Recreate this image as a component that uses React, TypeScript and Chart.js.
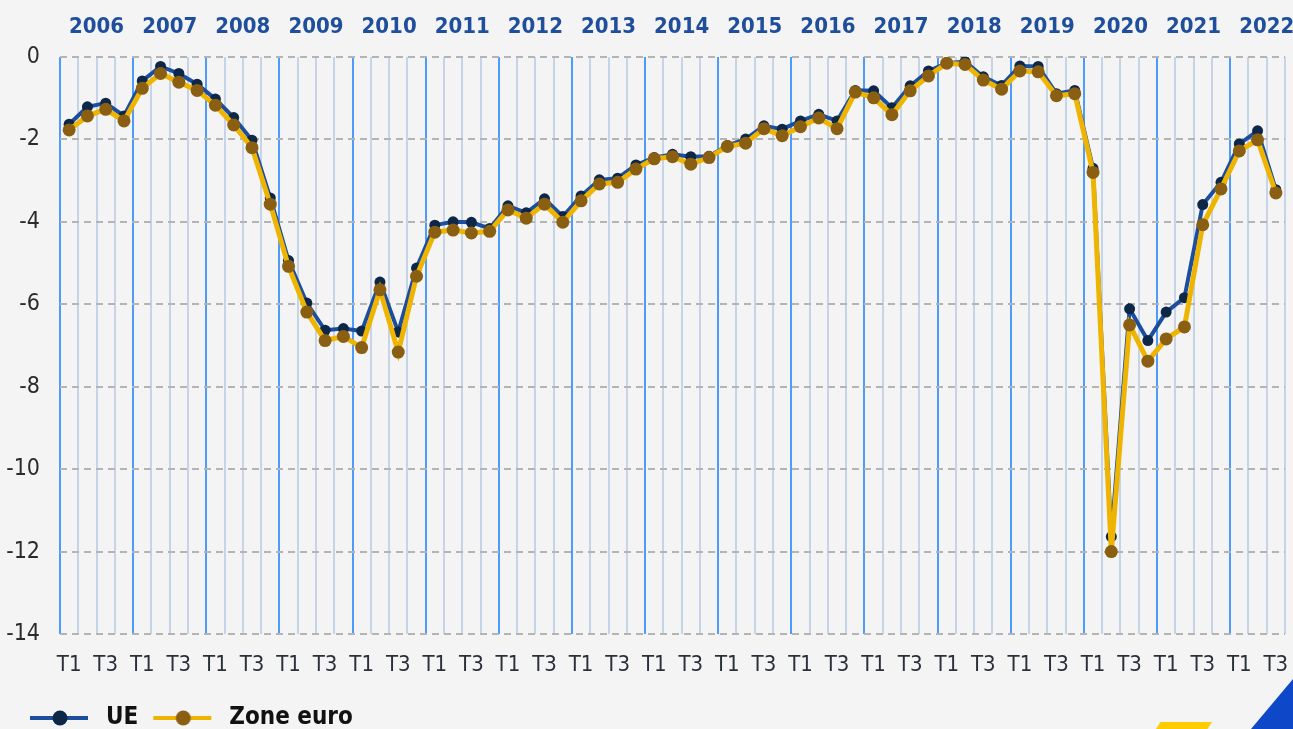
import React, { useEffect, useRef } from 'react';
import { Chart, registerables } from 'chart.js';

Chart.register(...registerables);

const YEARS = ['2006', '2007', '2008', '2009', '2010', '2011', '2012', '2013', '2014', '2015', '2016', '2017', '2018', '2019', '2020', '2021', '2022'];
const QUARTERS = ['T1', 'T2', 'T3', 'T4'];
const SHOWN_QUARTERS = ['T1', 'T3'];

const UE = [
  -1.63, -1.21, -1.12, -1.43,
  -0.58, -0.23, -0.40, -0.66,
  -1.02, -1.47, -2.02, -3.42,
  -4.94, -5.97, -6.63, -6.59,
  -6.65, -5.46, -6.67, -5.12,
  -4.08, -4.00, -4.01, -4.16,
  -3.61, -3.78, -3.44, -3.87,
  -3.37, -2.98, -2.94, -2.62,
  -2.44, -2.36, -2.42, -2.41,
  -2.15, -1.99, -1.67, -1.75,
  -1.55, -1.39, -1.55, -0.81,
  -0.82, -1.23, -0.70, -0.34,
  -0.15, -0.11, -0.48, -0.69,
  -0.22, -0.23, -0.89, -0.81,
  -2.70, -11.64, -6.11, -6.88,
  -6.19, -5.84, -3.58, -3.04,
  -2.11, -1.79, -3.22,
];

const ZONE_EURO = [
  -1.77, -1.43, -1.27, -1.55,
  -0.76, -0.40, -0.61, -0.81,
  -1.17, -1.65, -2.20, -3.57,
  -5.08, -6.19, -6.88, -6.78,
  -7.05, -5.65, -7.16, -5.32,
  -4.25, -4.20, -4.27, -4.23,
  -3.71, -3.91, -3.57, -4.01,
  -3.49, -3.08, -3.04, -2.72,
  -2.47, -2.42, -2.60, -2.44,
  -2.17, -2.09, -1.74, -1.91,
  -1.69, -1.48, -1.74, -0.85,
  -0.99, -1.40, -0.82, -0.46,
  -0.15, -0.18, -0.56, -0.78,
  -0.34, -0.36, -0.94, -0.89,
  -2.80, -12.00, -6.50, -7.38,
  -6.84, -6.55, -4.07, -3.20,
  -2.28, -2.01, -3.30,
];

const SERIES_NAMES = ['UE', 'Zone euro'];
const Y_MIN = -14;
const Y_MAX = 0;
const Y_STEP = 2;

const FONT = '"Liberation Sans Narrow", "DejaVu Sans Condensed", "Open Sans", sans-serif';
const BG = '#f4f4f4';
const LEGEND_SHIFT = 15;

function makeLegendIcon(line: string, dot: string) {
  const c = document.createElement('canvas');
  c.width = 66;
  c.height = 24;
  const g = c.getContext('2d')!;
  g.strokeStyle = line;
  g.lineWidth = 4;
  g.beginPath();
  g.moveTo(2, 12);
  g.lineTo(60, 12);
  g.stroke();
  g.fillStyle = dot;
  g.beginPath();
  g.arc(32, 12, 7.5, 0, Math.PI * 2);
  g.fill();
  return c;
}

const legendShift = {
  id: 'legendShift',
  afterLayout(chart: any) {
    if (chart.legend) {
      chart.legend.left += LEGEND_SHIFT;
      chart.legend.right += LEGEND_SHIFT;
    }
  },
};

export default function App() {
  const ref = useRef<HTMLCanvasElement | null>(null);

  useEffect(() => {
    document.body.style.margin = '0';
    document.body.style.background = BG;
    const canvas = ref.current;
    if (!canvas) return;

    const labels: string[] = [];
    YEARS.forEach(() => QUARTERS.forEach((q) => labels.push(q)));
    labels.length = UE.length;

    const icons = [makeLegendIcon('#1c4e9e', '#0c2748'), makeLegendIcon('#efb400', '#8a5f12')];

    const noSidePadding = (s: any) => {
      s.paddingLeft = 0;
      s.paddingRight = 0;
    };

    const chart = new Chart(canvas, {
      type: 'line',
      data: {
        labels,
        datasets: [
          {
            label: SERIES_NAMES[0],
            data: UE,
            borderColor: '#1c4e9e',
            backgroundColor: '#0c2748',
            borderWidth: 4,
            pointRadius: 5.5,
            pointBorderWidth: 0,
            pointBackgroundColor: '#0c2748',
            pointBorderColor: '#0c2748',
            tension: 0,
            order: 1,
          },
          {
            label: SERIES_NAMES[1],
            data: ZONE_EURO,
            borderColor: '#efb400',
            backgroundColor: '#8a5f12',
            borderWidth: 5,
            pointRadius: 6.5,
            pointBorderWidth: 0,
            pointBackgroundColor: '#8a5f12',
            pointBorderColor: '#8a5f12',
            tension: 0,
            order: 0,
          },
        ],
      },
      options: {
        animation: false,
        responsive: false,
        devicePixelRatio: 1,
        layout: { padding: { left: 0, right: 8, top: 0, bottom: 0 } },
        scales: {
          x: {
            type: 'category',
            position: 'bottom',
            offset: true,
            grid: {
              offset: true,
              drawTicks: false,
              color: (ctx: any) => (ctx.index !== undefined && ctx.index % 4 === 0 ? '#4d9bfb' : '#c6d4ea'),
              lineWidth: 2,
            },
            border: { display: false },
            ticks: {
              autoSkip: false,
              maxRotation: 0,
              padding: 18,
              color: '#2a2f3a',
              font: { family: FONT, size: 22 },
              callback: function (this: any, val: any) {
                const l = this.getLabelForValue(val);
                return SHOWN_QUARTERS.includes(l) ? l : '';
              },
            },
            afterFit: (s: any) => {
              s.height = 59;
              noSidePadding(s);
            },
          },
          x2: {
            type: 'linear',
            position: 'top',
            min: -0.5,
            max: UE.length - 0.5,
            bounds: 'data',
            grid: { display: false, drawTicks: false },
            border: { display: false },
            afterBuildTicks: (s: any) => {
              s.ticks = YEARS.map((_, i) => ({ value: i * 4 + 1.5 }));
            },
            ticks: {
              autoSkip: false,
              maxRotation: 0,
              padding: 17,
              color: '#1f4f9c',
              font: { family: FONT, size: 22, weight: 'bold' },
              callback: (v: any) => YEARS[Math.round((Number(v) - 1.5) / 4)] ?? '',
            },
            afterFit: (s: any) => {
              s.height = 57;
              noSidePadding(s);
            },
          },
          y: {
            min: Y_MIN,
            max: Y_MAX,
            grid: { color: '#b4b4b4', lineWidth: 2, drawTicks: false },
            border: { display: false, dash: [7, 5] },
            ticks: {
              stepSize: Y_STEP,
              padding: 20,
              color: '#2b2b2b',
              font: { family: FONT, size: 23 },
            },
            afterFit: (s: any) => {
              s.width = 60;
            },
          },
        },
        plugins: {
          title: { display: false },
          tooltip: { enabled: false },
          legend: {
            display: true,
            position: 'bottom',
            align: 'start',
            labels: {
              usePointStyle: true,
              pointStyleWidth: 66,
              boxHeight: 24,
              padding: 13,
              color: '#111111',
              font: { family: FONT, size: 24, weight: 'bold' },
              generateLabels: (ch: any) => {
                const items = (Chart.defaults.plugins.legend.labels as any).generateLabels(ch);
                items.forEach((it: any) => {
                  it.pointStyle = icons[it.datasetIndex];
                });
                items.sort((a: any, b: any) => a.datasetIndex - b.datasetIndex);
                return items;
              },
            },
          },
        },
      } as any,
      plugins: [legendShift],
    });

    return () => chart.destroy();
  }, []);

  return (
    <div style={{ position: 'relative', width: 1293, height: 729, overflow: 'hidden', background: BG }}>
      <canvas ref={ref} width={1293} height={740} style={{ display: 'block', width: 1293, height: 740 }} />
      <div
        style={{
          position: 'absolute',
          left: 1156,
          top: 722,
          width: 56,
          height: 7,
          background: '#ffcc00',
          clipPath: 'polygon(8% 0, 100% 0, 92% 100%, 0 100%)',
        }}
      />
      <div
        style={{
          position: 'absolute',
          left: 1251,
          top: 679,
          width: 42,
          height: 50,
          background: '#0e48c8',
          clipPath: 'polygon(100% 0, 100% 100%, 0 100%)',
        }}
      />
    </div>
  );
}
